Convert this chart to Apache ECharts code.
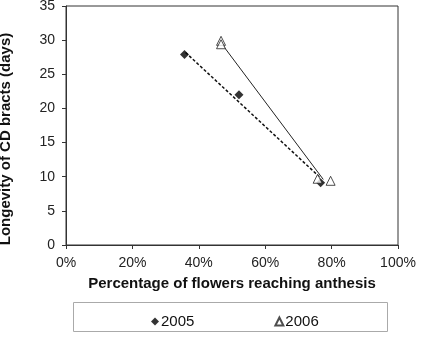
<!DOCTYPE html>
<html>
<head>
<meta charset="utf-8">
<script src="https://cdn.jsdelivr.net/npm/echarts@6/dist/echarts.min.js"></script>
<style>
  html, body { margin: 0; padding: 0; background: #fff; }
  #chart { width: 421px; height: 341px; }
</style>
</head>
<body>
<div id="chart"></div>
<script>
// observed points (x in %, y in days)
const pts2005 = [[35.7, 27.9], [52.1, 22.0], [76.7, 9.1]];
const pts2006 = [[46.7, 29.9], [46.7, 29.4], [75.8, 9.7], [79.7, 9.4]];
// fitted trend lines, end points
const trend2005 = [[36, 28.2], [76.3, 10.0]];
const trend2006 = [[47, 29.4], [77.5, 9.6]];
const xTicks = [0, 20, 40, 60, 80, 100];
const yTicks = [0, 5, 10, 15, 20, 25, 30, 35];

const font = 'Liberation Sans, Arial, sans-serif';
const chart = echarts.init(document.getElementById('chart'));

chart.setOption({
  animation: false,
  textStyle: { fontFamily: font },
  grid: {
    left: 66, right: 23, top: 6, bottom: 96,
    outerBoundsMode: 'none',
    show: true, borderColor: '#333', borderWidth: 1
  },
  xAxis: {
    type: 'value', min: 0, max: 100, interval: 20,
    name: 'Percentage of flowers reaching anthesis',
    nameLocation: 'middle', nameGap: 31,
    nameTextStyle: { fontWeight: 'bold', fontSize: 15, color: '#111' },
    axisLine: { lineStyle: { color: '#333' } },
    axisTick: { show: true, length: 4, lineStyle: { color: '#333' } },
    axisLabel: { formatter: '{value}%', fontSize: 14, color: '#222', margin: 11 },
    splitLine: { show: false }
  },
  yAxis: {
    type: 'value', min: 0, max: 35, interval: 5,
    axisLine: { show: true, lineStyle: { color: '#333' } },
    axisTick: { show: true, length: 4, lineStyle: { color: '#333' } },
    axisLabel: { fontSize: 14, color: '#222', margin: 11 },
    splitLine: { show: false }
  },
  legend: {
    data: ['2005', '2006'],
    left: 146, top: 309,
    itemGap: 80, itemWidth: 8, itemHeight: 8,
    textStyle: { fontSize: 15, color: '#111', fontFamily: font, padding: [0, 0, 0, -3] }
  },
  graphic: [{
    type: 'rect',
    shape: { x: 73.5, y: 302.5, width: 314, height: 29 },
    style: { fill: 'none', stroke: '#aaa', lineWidth: 1 },
    silent: true
  }, {
    type: 'text',
    x: 6, y: 139, rotation: Math.PI / 2,
    style: {
      text: 'Longevity of CD bracts (days)',
      font: 'bold 15px Liberation Sans, Arial, sans-serif',
      fill: '#111', align: 'center', verticalAlign: 'middle'
    },
    silent: true
  }],
  series: [
    {
      name: 'trend2005', type: 'line', data: trend2005,
      symbol: 'none', silent: true, z: 1,
      lineStyle: { color: '#111', width: 1.5, type: [3, 2] }
    },
    {
      name: 'trend2006', type: 'line', data: trend2006,
      symbol: 'none', silent: true, z: 1,
      lineStyle: { color: '#222', width: 1, type: 'solid' }
    },
    {
      name: '2005', type: 'scatter', data: pts2005,
      symbol: 'diamond', symbolSize: 9, z: 3,
      itemStyle: { color: '#000' }
    },
    {
      name: '2006', type: 'scatter', data: pts2006,
      symbol: 'triangle', symbolSize: 9, z: 3,
      itemStyle: { color: '#fff', borderColor: '#222', borderWidth: 1 }
    }
  ]
});
</script>
</body>
</html>
